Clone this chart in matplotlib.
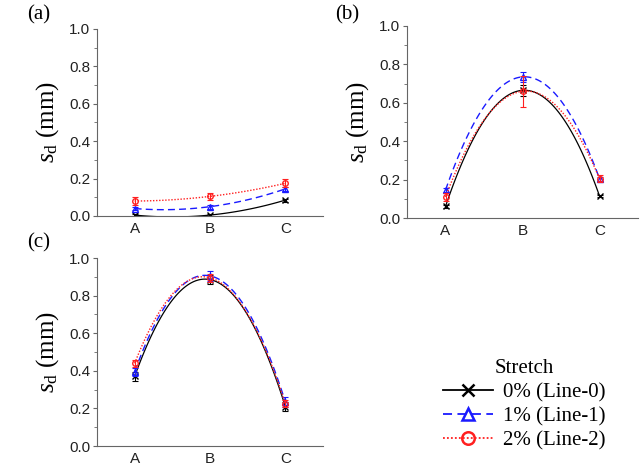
import numpy as np
import matplotlib.pyplot as plt
from matplotlib.ticker import MultipleLocator

categories = ["A", "B", "C"]
labels = ["0% (Line-0)", "1% (Line-1)", "2% (Line-2)"]

# panel -> [line0, line1, line2]
vals_a = [[0.005, 0.005, 0.085], [0.04, 0.05, 0.145], [0.08, 0.105, 0.175]]
err_a = [[0.005, 0.005, 0.008], [0.01, 0.01, 0.012], [0.02, 0.02, 0.022]]
vals_b = [[0.06, 0.665, 0.115], [0.145, 0.735, 0.205], [0.11, 0.66, 0.205]]
err_b = [[0.008, 0.03, 0.006], [0.01, 0.025, 0.01], [0.02, 0.08, 0.02]]
vals_c = [[0.37, 0.885, 0.21], [0.395, 0.905, 0.235], [0.44, 0.895, 0.225]]
err_c = [[0.025, 0.025, 0.025], [0.02, 0.025, 0.025], [0.02, 0.02, 0.02]]

colors = ["black", "#1a1aff", "#ff2020"]
styles = ["-", (0, (5, 3)), (0, (1, 1.2))]
markers = ["x", "^", "o"]

plt.rcParams['font.family'] = ['Liberation Sans', 'DejaVu Sans']
plt.rcParams['mathtext.fontset'] = 'custom'
plt.rcParams['mathtext.it'] = 'Liberation Serif:italic'
plt.rcParams['mathtext.rm'] = 'Liberation Serif'
fig = plt.figure(figsize=(6.43, 4.67), dpi=100)
W, H = 643, 467

def make_axes(x0, ytop, ybot, x1):
    return fig.add_axes([x0 / W, 1 - ybot / H, (x1 - x0) / W, (ybot - ytop) / H])

ax_a = make_axes(97, 29, 216, 323)
ax_b = make_axes(407, 26, 218, 638)
ax_c = make_axes(97, 258, 446, 323)

panel_pos = {"(a)": (27, 15), "(b)": (335, 15), "(c)": (27, 243)}

handles = []
for ax, vals, errs, tag in [(ax_a, vals_a, err_a, "(a)"), (ax_b, vals_b, err_b, "(b)"), (ax_c, vals_c, err_c, "(c)")]:
    x = np.arange(len(categories))
    xs = np.linspace(0, 2, 100)
    handles = []
    for i in range(3):
        coef = np.polyfit(x, vals[i], 2)
        ax.plot(xs, np.polyval(coef, xs), color=colors[i], linestyle=styles[i], lw=1.0 if i else 0.9)
        ax.errorbar(x, vals[i], yerr=errs[i], fmt='none', ecolor=colors[i], elinewidth=0.8, capsize=2.5, capthick=0.8)
        mfc = colors[i] if i == 0 else 'none'
        ax.plot(x, vals[i], linestyle='none', marker=markers[i], color=colors[i], mfc=mfc, ms=4, mew=1.0)
        h, = ax.plot([], [], color=colors[i], linestyle=styles[i], marker=markers[i], mfc=mfc, ms=9, mew=1.8, lw=1.3)
        handles.append(h)
    ax.set_xlim(-0.5, 2.5)
    ax.set_ylim(0, 1.0)
    ax.set_xticks(x)
    ax.set_xticklabels(categories)
    ax.yaxis.set_major_locator(MultipleLocator(0.2))
    ax.yaxis.set_minor_locator(MultipleLocator(0.1))
    ax.yaxis.set_major_formatter(plt.FormatStrFormatter('%.1f'))
    ax.spines['top'].set_visible(False)
    ax.spines['right'].set_visible(False)
    for s in ['left', 'bottom']:
        ax.spines[s].set_color('#666666')
        ax.spines[s].set_linewidth(0.8)
    ax.tick_params(axis='y', labelsize=11, colors='#666666', labelcolor='#222222', length=3, width=0.8, pad=2)
    ax.tick_params(axis='x', labelsize=11, labelcolor='#222222', length=0, pad=4)
    ax.tick_params(axis='y', which='minor', length=2, colors='#666666')
    ax.set_ylabel(r"$s_\mathrm{d}$ (mm)", fontsize=18, family='Liberation Serif', labelpad=6)
    px, py = panel_pos[tag]
    fig.text(px / W, 1 - py / H, tag, fontsize=15, family='Liberation Serif', va='center')

leg = fig.legend(handles, labels, title="Stretch", loc='center', bbox_to_anchor=(524 / W, 1 - 405 / H),
                 frameon=False, prop={'family': 'Liberation Serif', 'size': 15},
                 title_fontproperties={'family': 'Liberation Serif', 'size': 15},
                 handlelength=2.4, handletextpad=0.5, labelspacing=0.22)

fig.savefig("out.png", dpi=100)
